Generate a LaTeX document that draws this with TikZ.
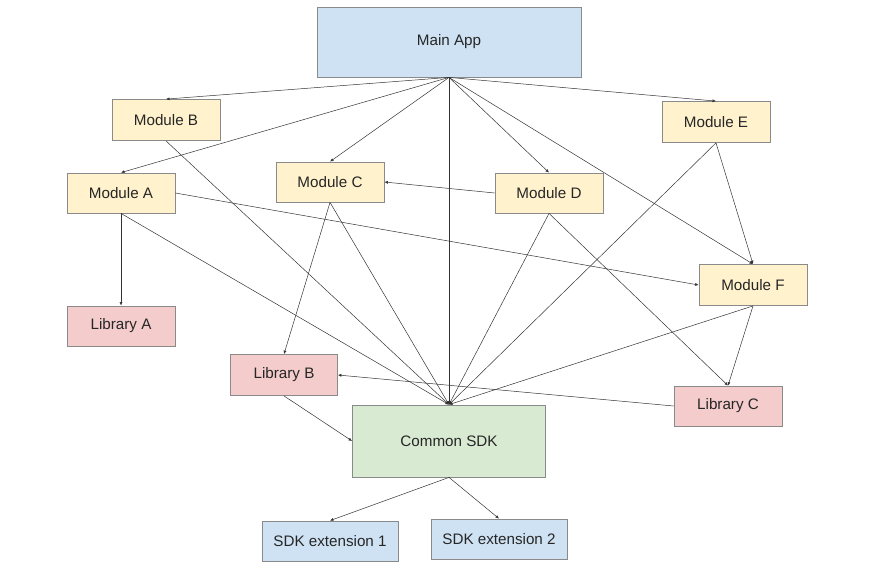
\documentclass[tikz,border=0pt]{standalone}
\usepackage{fontspec}
\setmainfont{Liberation Sans}
\usetikzlibrary{positioning,arrows.meta}
\definecolor{appblue}{HTML}{CFE2F3}
\definecolor{modyellow}{HTML}{FFF2CC}
\definecolor{libred}{HTML}{F4CCCC}
\definecolor{sdkgreen}{HTML}{D9EAD3}
\definecolor{boxline}{HTML}{8A8A8A}
\begin{document}
\begin{tikzpicture}[x=1pt,y=-1pt,
		box/.style={draw=boxline,line width=.8,minimum width=108,minimum height=40,inner sep=0,text=black!85,font=\fontsize{15.2}{18}\selectfont},
		app/.style={box,fill=appblue},
		mod/.style={box,fill=modyellow},
		lib/.style={box,fill=libred},
		dep/.style={-{Latex[length=3.5,width=3]},line width=.5,black!80}]
		\useasboundingbox (0,0) rectangle (880,571);
		% top level
		\node[app,minimum width=264,minimum height=70] (M) at (449,42) {Main App};
		% modules
		\node[mod,minimum height=41] (B) at (166,120) {Module B};
		\node[mod,minimum height=41] (E) at (716,122) {Module E};
		\node[mod] (A) at (121,193) {Module A};
		\node[mod] (C) at (330,182) {Module C};
		\node[mod] (D) at (549,193) {Module D};
		\node[mod,minimum height=41] (F) at (753,285) {Module F};
		% libraries
		\node[lib] (LA) at (121,326) {Library A};
		\node[lib,minimum width=107,minimum height=41] (LB) at (284,375) {Library B};
		\node[lib] (LC) at (728,406) {Library C};
		% sdk
		\node[box,fill=sdkgreen,minimum width=193,minimum height=72] (S) at (449,441) {Common SDK};
		\node[app,minimum width=136] (X1) at (330,541) {SDK extension 1};
		\node[app,minimum width=136] (X2) at (499,539) {SDK extension 2};
		%main app
		\foreach \t in {B,E,A,C,D,F}
			\draw[dep] (M.south) -- (\t.north);
		\draw[dep] (M.south) -- (S.north);
		%into the sdk
		\foreach \s in {B,A,C,D,E,F}
			\draw[dep] (\s.south) -- (S.north);
		\draw[dep] (LB.south) -- (S.west);
		%between modules and libraries
		\draw[dep] (A.south) -- (LA.north);
		\draw[dep] (A.east) -- (F.west);
		\draw[dep] (C.south) -- (LB.north);
		\draw[dep] (D.west) -- (C.east);
		\draw[dep] (D.south) -- (LC.north);
		\draw[dep] (E.south) -- (F.north);
		\draw[dep] (F.south) -- (LC.north);
		\draw[dep] (LC.west) -- (LB.east);
		%extensions
		\draw[dep] (S.south) -- (X1.north);
		\draw[dep] (S.south) -- (X2.north);
	\end{tikzpicture}
\end{document}
